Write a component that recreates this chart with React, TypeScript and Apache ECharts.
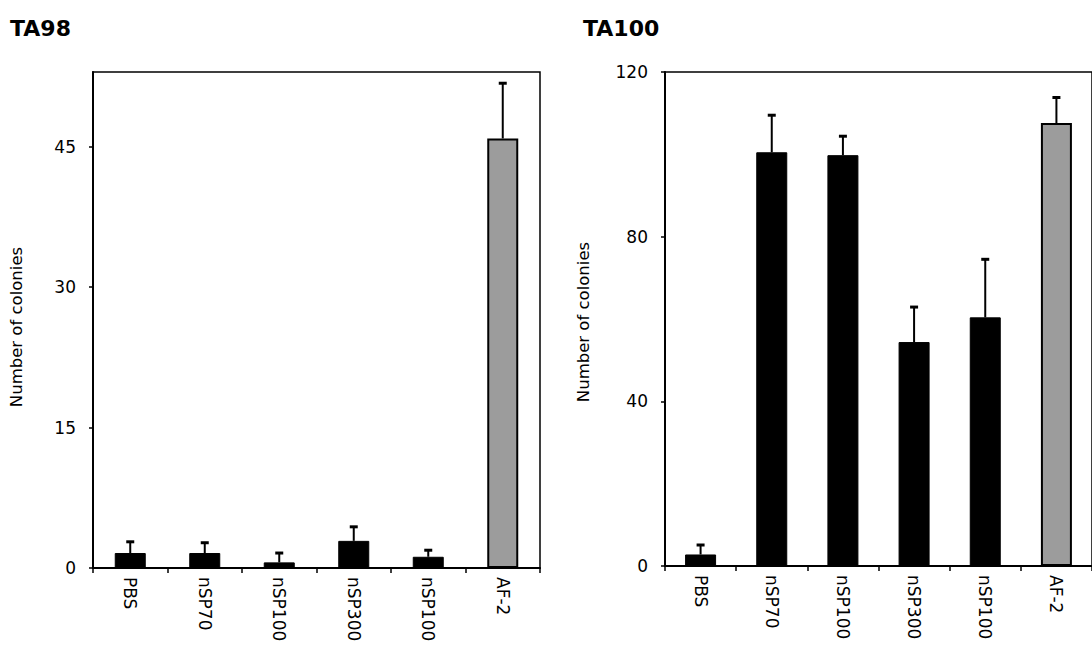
import React, { useEffect, useRef } from "react";
import * as echarts from "echarts";

// Ames test: revertant colonies per strain (mean + upper SD)
const categories = ["PBS", "nSP70", "nSP100", "nSP300", "nSP100", "AF-2"];
const ta98Mean = [1.6, 1.6, 0.6, 2.9, 1.2, 45.9];
const ta98Err = [1.2, 1.1, 1.0, 1.5, 0.7, 5.9];
const ta100Mean = [2.8, 100.5, 99.8, 54.4, 60.4, 107.6];
const ta100Err = [2.3, 9.0, 4.6, 8.5, 14.1, 6.2];
const ta98Ticks = [0, 15, 30, 45];
const ta100Ticks = [0, 40, 80, 120];
const positiveControl = "AF-2";

const FONT = "'DejaVu Sans', Verdana, sans-serif";

const barData = (means: number[]) =>
  means.map((v, i) =>
    categories[i] === positiveControl
      ? { value: v, itemStyle: { color: "#9c9c9c", borderColor: "#000", borderWidth: 2 } }
      : { value: v, itemStyle: { color: "#000", borderColor: "#000", borderWidth: 1 } }
  );

const errData = (means: number[], errs: number[]) =>
  means.map((m, i) => [i, m, m + errs[i]]);

const errorBarItem = (_params: any, api: any) => {
  const base = api.coord([api.value(0), api.value(1)]);
  const top = api.coord([api.value(0), api.value(2)]);
  const half = 4;
  return {
    type: "group",
    children: [
      {
        type: "line",
        shape: { x1: base[0], y1: base[1], x2: top[0], y2: top[1] },
        style: { stroke: "#000", lineWidth: 2 },
      },
      {
        type: "line",
        shape: { x1: top[0] - half, y1: top[1], x2: top[0] + half, y2: top[1] },
        style: { stroke: "#000", lineWidth: 3 },
      },
    ],
  };
};

const xAxisBase = (gridIndex: number) => ({
  type: "category",
  gridIndex,
  data: categories,
  axisLine: { lineStyle: { color: "#000", width: 2 } },
  axisTick: { show: true, length: 5, lineStyle: { color: "#000", width: 1.5 } },
  axisLabel: {
    rotate: -90,
    interval: 0,
    margin: 9,
    color: "#000",
    fontSize: 17,
    fontFamily: FONT,
  },
  splitLine: { show: false },
});

const yAxisBase = (gridIndex: number, max: number, interval: number, ticks: number[]) => ({
  type: "value",
  gridIndex,
  min: 0,
  max,
  interval,
  axisLine: { show: true, lineStyle: { color: "#000", width: 2 } },
  axisTick: { show: true, length: 4, customValues: ticks, lineStyle: { color: "#000", width: 1.5 } },
  axisLabel: {
    margin: 17,
    color: "#000",
    fontSize: 17,
    fontFamily: FONT,
    customValues: ticks,
    formatter: (v: number) => (ticks.includes(v) ? String(v) : ""),
  },
  splitLine: { show: false },
});

const axisName = (x: number, y: number) => ({
  type: "text",
  x,
  y,
  rotation: Math.PI / 2,
  style: {
    text: "Number of colonies",
    align: "center",
    verticalAlign: "middle",
    fontSize: 16.5,
    fontFamily: FONT,
    fill: "#000",
  },
});

export default function App() {
  const ref = useRef<HTMLDivElement>(null);

  useEffect(() => {
    if (!ref.current) return;
    const chart = echarts.init(ref.current, undefined, { renderer: "svg" });
    chart.setOption({
      animation: false,
      backgroundColor: "#fff",
      title: [
        {
          text: "TA98",
          left: 10,
          top: 17,
          padding: 0,
          textStyle: { fontSize: 22, fontWeight: "bold", fontFamily: FONT, color: "#000" },
        },
        {
          text: "TA100",
          left: 583,
          top: 17,
          padding: 0,
          textStyle: { fontSize: 22, fontWeight: "bold", fontFamily: FONT, color: "#000" },
        },
      ],
      grid: [
        { left: 93, top: 72, width: 447, height: 496, show: true, borderColor: "#000", borderWidth: 1.5, backgroundColor: "transparent" },
        { left: 665, top: 72, width: 432, height: 494, show: true, borderColor: "#000", borderWidth: 1.5, backgroundColor: "transparent" },
      ],
      xAxis: [xAxisBase(0), xAxisBase(1)],
      yAxis: [yAxisBase(0, 53, 15, ta98Ticks), yAxisBase(1, 120, 40, ta100Ticks)],
      graphic: [axisName(16, 327), axisName(583, 322)],
      series: [
        {
          name: "TA98",
          type: "bar",
          xAxisIndex: 0,
          yAxisIndex: 0,
          barWidth: 31,
          data: barData(ta98Mean),
        },
        {
          name: "TA98 SD",
          type: "custom",
          xAxisIndex: 0,
          yAxisIndex: 0,
          renderItem: errorBarItem,
          encode: { x: 0, y: [1, 2] },
          data: errData(ta98Mean, ta98Err),
          z: 5,
        },
        {
          name: "TA100",
          type: "bar",
          xAxisIndex: 1,
          yAxisIndex: 1,
          barWidth: 31,
          data: barData(ta100Mean),
        },
        {
          name: "TA100 SD",
          type: "custom",
          xAxisIndex: 1,
          yAxisIndex: 1,
          renderItem: errorBarItem,
          encode: { x: 0, y: [1, 2] },
          data: errData(ta100Mean, ta100Err),
          z: 5,
        },
      ],
    });
    return () => chart.dispose();
  }, []);

  return (
    <div
      ref={ref}
      style={{ position: "fixed", left: 0, top: 0, width: 1092, height: 646, background: "#fff" }}
    />
  );
}
